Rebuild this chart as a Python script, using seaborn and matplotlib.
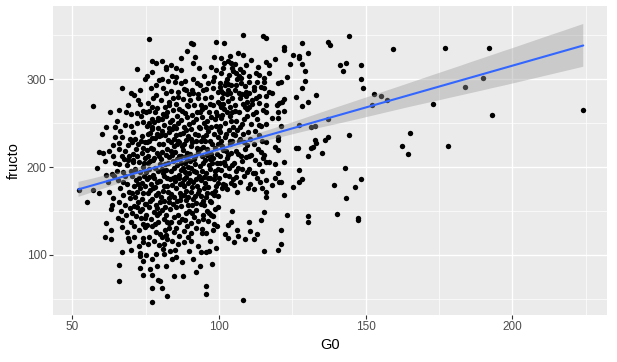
import matplotlib
matplotlib.use("Agg")
import matplotlib.pyplot as plt
from matplotlib.ticker import MultipleLocator
from matplotlib.collections import PolyCollection
import seaborn as sns
import pandas as pd

# (G0, fructo) pairs, grouped by G0 range
pts_left = [(52.1,173.4),(55.1,160.2),(57.2,173.4),(57.2,269.4),(58.3,198.4),(59.2,170.4),(59.2,217.5),
    (60.0,237.5),(60.3,216.2),(61.5,245.1),(61.4,191.2),(62.4,171.5),(62.4,218.1),(63.4,192.4),(63.4,156.4),
    (63.3,152.6),(64.0,225),(64.4,234.4),(64.0,212.8),(61.4,136),(63.3,128.4),(61.2,120.1),(63.3,117.8),
    (62.0,183),(64.5,205),(63.8,165),(64.6,245),(62.8,262),(64.2,190),(61.0,207)]

pts_65_75 = [(66,264.4),(65.2,252.3),(66,227.6),(66.9,212.8),(67,234.4),(66,203),(68.5,202.6),(69,207.9),
    (70.8,206),(67,139.8),(67,131.5),(69.1,119),(69.2,116.3),(67,103.1),(66,88.3),(66,70.1),(70,105.3),
    (70,137.9),(71,133),(70,284),(71,282),(70,260),(68,247.7),(70,246.6),(72.1,249.6),(74.1,251.5),
    (72.1,311),(73.1,287),(73.1,272),(72.1,261),(74.1,264),(74.2,135.3),(74.7,132.2),(74.2,119),
    (74.2,115.2),(73.1,101.9),(73.1,98.9),(74.2,92.8),(73.1,84.9),(74.2,76.9),
    (65.5,185),(66.2,176),(67.4,168),(68.1,190),(68.8,181),(69.4,172),(65.8,160),(66.7,150),(67.9,157),
    (68.3,145),(69.6,153),(65.3,196),(67.2,194),(68.9,225),(69.7,232),(66.4,241),(68.0,218),(69.2,213),
    (65.9,221),(67.6,209),(69.9,195),(68.4,262),(69.1,270),(66.8,290),(69.5,165),(65.4,142),(68.7,126),
    (67.3,183),
    (70.3,228),(70.8,215),(71.2,198),(71.7,185),(72.0,172),(72.4,160),(72.9,150),(73.3,142),(73.8,235),
    (74.2,222),(74.7,210),(70.5,190),(70.9,178),(71.4,166),(71.9,154),(72.3,226),(72.8,206),(73.2,194),
    (73.7,182),(74.1,170),(74.6,158),(70.2,148),(70.7,240),(71.3,232),(71.8,220),(72.2,212),(72.7,188),
    (73.1,176),(73.6,164),(74.0,200),(74.5,190),(74.9,178),(70.4,170),(71.0,156),(71.6,144),(72.6,128),
    (73.4,230),(73.9,216),(74.4,204),(74.8,228),(70.6,208),(72.4,276),(73.5,258),(74.8,300),(70.9,120),
    (72.8,110),(73.9,152),(74.6,142),(71.4,196),(72.5,181)]

pts_75_85 = [(75.2,100),(76.2,345),(77.2,321),(77.2,307.6),(78.4,293),(78.4,281.5),(75.2,262),(76.2,264),
    (77.2,268.5),(78.1,134.9),(79.3,137.9),(77.3,133),(75.3,134.1),(78.4,125.8),(78.4,101.2),(77.2,95.1),
    (77.2,76.9),(79.3,71.2),(77.2,62.2),(77.2,46.2),(79.8,70.9),(76.2,249.6),(77.2,245.8),(79.2,253.4),
    (75.6,247),(76.4,239),(77.9,251),(79.1,244),(75.3,228),(76.8,222),(78.3,233),(79.6,226),(75.9,213),
    (77.4,208),(78.7,216),(79.9,203),(76.1,198),(77.6,191),(79.2,195),(75.4,186),(76.7,181),(78.1,177),
    (79.5,184),(75.8,170),(77.1,164),(78.6,168),(79.8,160),(76.3,155),(77.7,149),(79.0,153),(75.2,145),
    (76.9,141),(78.9,146),(75.7,205),(77.0,233),(78.2,199),(79.4,213),(76.5,174),(77.8,187),(79.1,171),
    (75.1,158),(76.6,161),(78.5,157),(79.7,148),(76.0,229),(77.3,243),(78.8,238),(75.5,219),(77.5,220),
    (79.3,256),(76.2,189),(78.0,210),(75.9,273),(77.6,278),(79.0,267),(76.7,290),(79.6,299),(75.4,303),
    (78.4,318),(76.3,121),(77.9,116),(79.4,111),(75.8,112),(78.7,88),(76.6,84),(79.9,124),(77.4,176),
    (78.9,183),(75.1,194),(76.4,207),(79.5,235),(77.0,255),(78.3,262),(75.7,237),
    (80.4,320.9),(82.1,314),(83.8,316),(82.7,298.1),(84.9,296.2),(82.1,284.5),(81.9,311),(82.3,137.9),
    (83.0,136.8),(83.0,130.3),(80.4,120.9),(82.3,117.8),(81.8,122.8),(84.0,115.9),(81.3,112.5),(81.3,100.8),
    (84.0,95.1),(80.4,62.2),(82.3,53.1),
    (80.2,276),(81.5,268),(82.9,274),(84.3,265),(80.7,254),(82.0,258),(83.4,251),(84.8,247),(80.5,241),
    (81.7,236),(83.1,240),(84.5,232),(80.9,226),(82.4,221),(83.7,228),(84.1,214),(80.3,209),(81.6,203),
    (83.0,211),(84.6,199),(80.8,193),(82.2,188),(83.5,196),(84.9,184),(81.1,178),(82.6,172),(83.9,179),
    (80.1,166),(81.4,161),(82.8,165),(84.2,158),(80.6,151),(82.0,146),(83.3,152),(84.7,143),(81.2,141),
    (83.6,138),(80.0,184),(81.9,197),(83.2,186),(84.4,207),(80.4,217),(82.7,231),(84.0,243),(81.3,248),
    (82.5,205),(83.8,169),(80.9,173),(84.8,224),(81.0,290),(83.5,286),(84.4,279),(82.3,262),(80.6,300),
    (83.9,304),(81.6,128),(84.6,126),(80.8,107),(83.4,104),(82.1,88),(84.8,76),(81.5,155),(83.0,160),
    (84.3,188),(80.2,236),(82.9,244),(81.8,214),(83.7,218),(80.5,198),(84.1,253),(82.4,178),(81.2,190),
    (83.1,270),(80.9,260),(84.7,166)]

pts_85_95 = [(89.1,331.5),(87.0,323.5),(88.3,298.1),(86.1,285.6),(88.9,287.5),(85.5,312.2),(87.2,310.3),
    (89.1,133),(86.0,112.5),(88.1,114.4),(85.4,98),(87.6,76),
    (85.2,272),(86.4,266),(87.7,277),(89.3,269),(85.8,258),(87.1,253),(88.5,261),(89.8,249),(85.4,244),
    (86.7,238),(88.0,246),(89.4,235),(85.9,229),(87.3,224),(88.7,231),(85.1,217),(86.5,212),(87.8,219),
    (89.2,208),(85.6,202),(87.0,197),(88.3,205),(89.7,193),(86.2,187),(87.5,182),(88.9,189),(85.3,176),
    (86.8,171),(88.1,178),(89.5,166),(85.7,161),(87.2,156),(88.6,163),(89.9,150),(86.0,146),(87.4,141),
    (88.8,148),(85.5,131),(87.9,127),(89.6,121),(86.3,122),(85.0,189),(86.9,204),(88.4,194),(89.0,216),
    (85.8,226),(87.6,239),(89.1,257),(86.1,250),(88.2,226),(85.2,155),(87.0,167),(88.8,173),(89.4,182),
    (86.6,181),(87.7,199),(85.9,280),(88.0,289),(89.7,283),(86.9,296),(85.3,302),(87.4,264),(89.0,270),
    (86.4,228),(88.6,212),(85.6,209),(87.9,186),(89.3,157),(86.2,137),(88.4,140),(85.1,106),(87.3,92),
    (89.8,104),(86.7,162),(88.9,242),(85.4,236),(87.1,213),(89.6,200),(86.5,191),(88.2,168),
    (90.4,341.3),(91.2,339.8),(91.2,317.8),(91.2,299.6),(93.4,293.2),(91.2,283.7),(94.6,287.5),(92.3,130.3),
    (94.2,129.2),(94.2,124.6),(92.3,80.3),(90.3,116.3),(90.3,124.6),
    (90.2,276),(91.5,270),(92.9,279),(94.3,266),(90.7,259),(92.1,254),(93.6,262),(94.9,250),(90.4,243),
    (91.8,238),(93.2,246),(94.6,234),(90.9,228),(92.4,222),(93.8,230),(90.1,215),(91.6,209),(93.0,217),
    (94.5,205),(90.6,199),(92.0,194),(93.4,201),(94.8,189),(91.1,183),(92.6,178),(94.0,185),(90.3,172),
    (91.8,167),(93.3,174),(94.7,161),(90.8,157),(92.2,151),(93.7,158),(91.4,143),(93.0,139),(94.4,146),
    (90.5,136),(92.7,110),(94.0,103),(91.3,96),(93.5,88),(90.0,185),(91.9,203),(93.1,190),(94.2,213),
    (90.6,224),(92.8,236),(94.1,257),(91.2,251),(93.9,270),(90.9,288),(92.5,296),(94.8,304),(93.2,312),
    (91.7,325),(92.4,263),(90.2,207),(93.6,221),(94.9,176),(91.0,164),(92.3,186),(93.8,167),(90.7,148),
    (94.6,141),(92.0,230),(91.5,195),(93.4,244),(94.3,196),(90.4,232),(92.9,171),(91.8,212),(93.0,283),
    (94.7,223),(90.8,177),(92.1,159)]

pts_95_105 = [(98.9,342.4),(98.3,325.4),(97.4,313.3),(99.1,310.2),(96.3,295.9),(98.0,289.4),(99.7,285.6),
    (95.1,278),(97.4,280),(98.3,134.9),(95.4,103),(96.5,104.6),(95.4,64.8),(95.4,55.7),
    (95.3,268),(96.6,262),(98.0,271),(99.4,259),(95.8,252),(97.2,246),(98.6,254),(99.9,242),(95.5,236),
    (96.9,230),(98.3,238),(99.6,226),(95.9,220),(97.4,215),(98.8,222),(95.2,208),(96.7,202),(98.1,210),
    (99.5,198),(95.7,193),(97.1,187),(98.5,195),(99.8,182),(96.2,177),(97.6,171),(99.0,178),(95.4,166),
    (96.8,161),(98.2,168),(99.7,155),(95.9,150),(97.3,145),(98.7,152),(96.4,139),(97.8,128),(99.3,133),
    (95.6,125),(96.9,116),(99.1,108),(97.6,90),(95.1,182),(97.0,198),(98.4,186),(99.2,204),(95.8,214),
    (97.5,226),(99.0,247),(96.1,241),(98.9,263),(95.6,289),(97.9,298),(96.8,272),(99.5,274),(98.2,302),
    (95.3,229),(97.7,204),(99.4,215),(96.3,188),(98.6,173),(95.0,157),(97.2,160),(99.8,167),(96.5,148),
    (98.0,144),(95.7,245),(97.3,257),(99.6,234),(96.0,170),(98.8,191),(96.9,209),
    (101.7,341.3),(100.8,323.5),(103.1,320.9),(104.2,317.8),(100.8,307.2),(101.9,293.2),(104.2,293.2),
    (101.4,283.7),(103.6,284.5),(103.1,134.1),(104.0,137.9),(103.1,119.0),
    (100.3,272),(101.6,266),(103.0,275),(104.4,263),(100.8,256),(102.2,250),(103.6,258),(104.9,246),
    (100.5,240),(101.9,234),(103.3,242),(104.6,230),(100.9,224),(102.4,218),(103.8,226),(100.2,212),
    (101.7,206),(103.1,214),(104.5,202),(100.7,197),(102.1,191),(103.5,199),(104.8,186),(101.2,181),
    (102.6,175),(104.0,182),(100.4,296),(101.8,318),(103.2,288),(104.7,309),(100.9,279),(102.3,297),
    (103.7,326),(101.4,272),(102.8,283),(100.6,268),(102.0,124),(104.3,150),(100.1,188),(101.9,202),
    (103.4,190),(104.2,216),(100.8,229),(102.5,238),(104.1,252),(101.1,259),(103.9,268),(100.5,291),
    (102.7,300),(104.6,279),(101.3,313),(103.4,305),(100.2,247),(102.9,210),(104.8,237),(101.5,219),
    (103.0,294),(100.6,286),(104.4,312),(102.2,180),(101.0,176),(103.7,230),(100.3,205),(102.6,262)]

pts_105_115 = [(105.1,114.4),(108.2,350),(106.5,329.2),(109.3,316),(105.9,306.5),(108.2,308.3),(107.0,278),
    (110.2,137.9),(106.1,128.4),(108.2,48.5),
    (105.3,270),(106.7,263),(108.1,272),(109.5,258),(105.8,252),(107.2,246),(108.6,254),(109.9,240),
    (105.5,236),(106.9,229),(108.3,238),(109.6,225),(105.9,218),(107.4,212),(108.8,220),(105.2,205),
    (106.6,199),(108.0,207),(109.4,194),(105.7,189),(107.1,183),(108.5,190),(109.8,176),(106.2,172),
    (107.6,301),(109.0,292),(105.4,317),(106.8,284),(108.2,327),(109.7,274),(105.9,293),(107.3,311),
    (108.7,268),(106.4,122),(108.9,118),(105.6,287),(107.5,295),(109.2,285),(106.3,300),(105.1,180),
    (107.9,198),(109.3,211),(106.0,242),(108.4,228),(105.6,264),(107.8,283),(106.9,304),(109.1,281),
    (105.8,195),(108.0,249),(106.5,215),(109.6,266),(107.0,232),
    (111.0,321.6),(112.7,306.5),(112.1,291.3),(112.7,278),(113.8,304.6),(114.4,290.5),(113.8,272.4),
    (114.9,264.8),(114.4,217.4),(114.4,139.8),(110.4,297),(110.4,283.7),
    (110.3,268),(111.6,260),(113.0,255),(114.2,247),(110.8,249),(112.2,241),(113.5,236),(110.5,232),
    (111.9,226),(113.3,221),(114.7,230),(110.9,214),(112.4,208),(113.8,203),(110.2,198),(111.7,193),
    (113.1,188),(114.6,196),(110.7,181),(112.1,175),(113.6,281),(110.4,303),(111.9,287),(113.4,314),
    (114.8,176),(111.2,276),(112.8,297),(110.6,127),(112.0,118),(113.7,248),(111.4,272),(112.6,262),
    (114.1,183),(110.1,213),(112.3,193),(113.0,124)]

pts_115_130 = [(115.0,348.9),(116.0,346.2),(122.0,336),(122.1,333),(125.2,327.3),(127.2,326.2),
    (127.4,323.5),(119.0,322.4),(116.1,319),(116.9,316),(124.3,317.1),(128.2,317.1),(129.4,309.5),
    (117.0,306.5),(115.2,300.8),(115.5,297),(123.1,301.9),(120.1,295.1),(121.2,296.2),(129.4,298.1),
    (115.5,289.4),(117.0,285.6),(118.1,283.7),(128.2,289.4),(116.1,280.7),(126.3,279.2),(122.3,276.9),
    (121.5,274.3),(120.6,272.4),(119.7,270.5),(128.2,269.3),(115.9,270.5),(116.1,262.9),(120.1,262.9),
    (122.0,263.7),(127.4,247.7),(118.0,255.3),(120.1,255.3),(121.2,247),(115.9,248.5),(120.1,233.7),
    (120.1,230.6),(116.1,228),(119.0,223.1),(120.1,219.3),(115.5,213.6),(115.0,209.8),(116.1,206),
    (117.2,205.3),(119.0,203.4),(122.0,205.3),(127.2,196.5),(120.1,192.8),(119.0,187.1),(120.6,182.5),
    (121.2,182.5),(116.1,185.2),(118.1,179.5),(127.2,182.5),(128.2,186),(125.2,176.8),(116.1,171.9),
    (115.9,165.5),(122.1,168.1),(115.3,148.8),(123.1,145),(121.1,128.4),(121.1,112.1),(120.1,105.3),
    (115.3,104.2),(126.3,221.2),(126.9,221.2),(128.2,340.5)]

pts_right = [(144.2,348.9),(137.1,341.7),(138.0,338.7),(130.3,329.2),(141.1,316),(143.3,317.8),
    (148.4,316),(142.2,309.5),(148.4,299.6),(149.0,289.4),(133.1,281.8),(130.3,274.3),(153.0,283),
    (152.2,270.5),(137.1,254.2),(131.4,245.1),(132.9,247),(144.2,236),(137.1,233.7),(136.2,230.6),
    (132.9,230.6),(133.1,226.8),(132.0,222.3),(131.4,221.2),(135.0,215.5),(130.3,212.5),(143.1,198.4),
    (148.3,186),(139.1,179.5),(146.3,176.8),(143.2,164.3),(130.3,144.3),(140.1,146.2),(147.3,141.6),
    (130.3,137.1),(147.3,139.8),(159.2,333.7),(177.2,334.9),(192.2,334.9),(155.2,280.7),(157.2,275.8),
    (173.1,271.2),(184.0,290.5),(190.1,300.8),(193.2,258.7),(224.2,264.4),(165.0,238.3),(162.3,223.5),
    (164.3,214.4),(178.2,223.5)]

groups = [pts_left, pts_65_75, pts_75_85, pts_85_95, pts_95_105, pts_105_115, pts_115_130, pts_right]
G0 = [p[0] for g in groups for p in g]
fructo = [p[1] for g in groups for p in g]
df = pd.DataFrame({"G0": G0, "fructo": fructo})

sns.set_theme(style="darkgrid")
plt.rcParams['font.family'] = ['Liberation Sans', 'DejaVu Sans']

fig = plt.figure(figsize=(6.17, 3.62), dpi=100)
ax = fig.add_axes([53/617, 47/362, 554/617, 309/362])
ax.set_facecolor("#EBEBEB")

sns.regplot(data=df, x="G0", y="fructo", ax=ax, ci=95, n_boot=1000, seed=3, truncate=True,
            scatter_kws=dict(s=15, color="black", linewidths=0, alpha=1, zorder=2),
            line_kws=dict(color="#3366FF", lw=1.5, zorder=4))

for c in ax.collections:
    if isinstance(c, PolyCollection):
        c.set_alpha(0.4)
        c.set_facecolor((0.6, 0.6, 0.6))
        c.set_edgecolor("none")
        c.set_zorder(3)

ax.set_xlim(43.4, 232.3)
ax.set_ylim(31.8, 383)
ax.xaxis.set_major_locator(MultipleLocator(50))
ax.xaxis.set_minor_locator(MultipleLocator(25))
ax.yaxis.set_major_locator(MultipleLocator(100))
ax.yaxis.set_minor_locator(MultipleLocator(50))
ax.grid(which="major", color="white", linewidth=1.0)
ax.grid(which="minor", color="white", linewidth=0.5)
ax.set_axisbelow(True)
for s in ax.spines.values():
    s.set_visible(False)
ax.tick_params(which="major", length=2.6, width=0.8, color="#333333", labelcolor="#4D4D4D",
               labelsize=8.5, pad=2, bottom=True, left=True)
ax.tick_params(which="minor", length=0)
ax.set_xlabel("G0", fontsize=10.5, color="black", labelpad=3)
ax.set_ylabel("fructo", fontsize=10.5, color="black", labelpad=4)

fig.savefig("out.png", dpi=100)
